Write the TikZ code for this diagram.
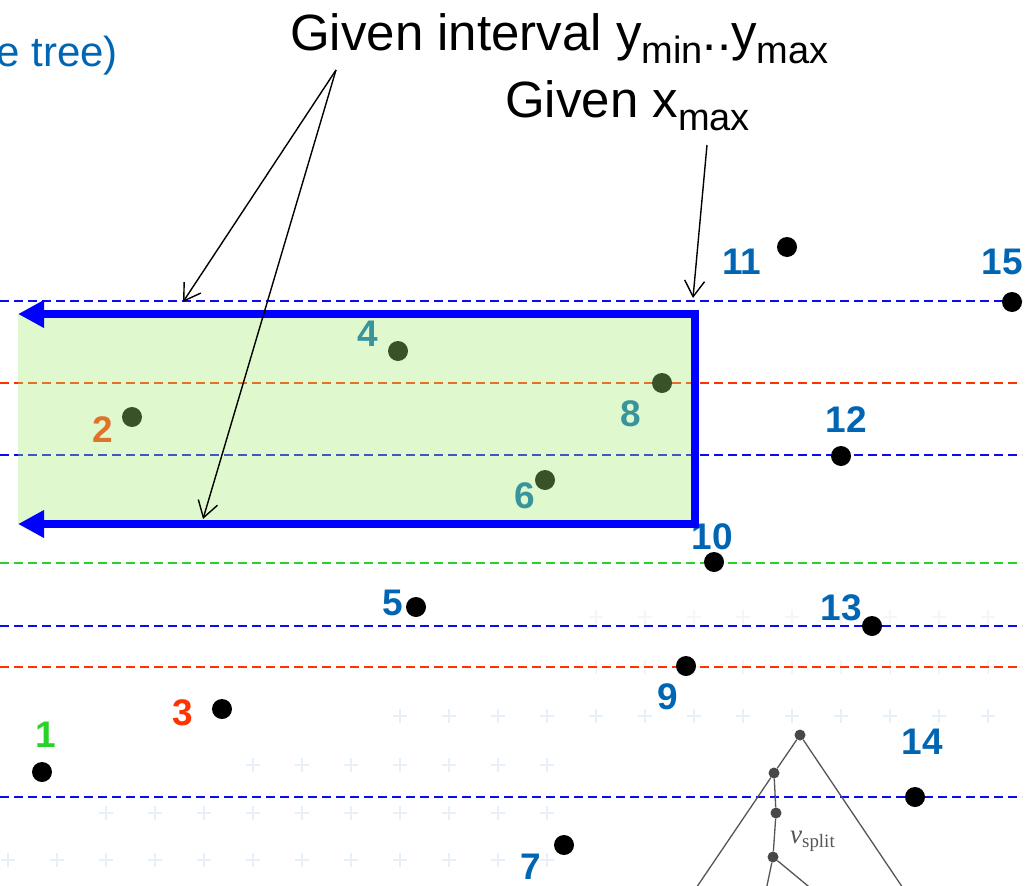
\documentclass[tikz,border=0pt]{standalone}
\usepackage{fontspec}
\setmainfont{Liberation Sans}
\newfontfamily\treefont{Liberation Serif}
\usetikzlibrary{arrows.meta,positioning}
\definecolor{numblue}{RGB}{0,102,179}
\definecolor{linered}{RGB}{255,51,0}
\definecolor{linegreen}{RGB}{40,210,40}
\definecolor{lineblue}{RGB}{10,10,245}
\definecolor{boxblue}{RGB}{0,0,255}
\definecolor{boxgreen}{RGB}{165,235,115}
\definecolor{faint}{RGB}{232,239,246}
\definecolor{treegray}{RGB}{85,85,85}
\newcommand\lowsub[1]{\raisebox{-13pt}{\fontsize{38}{38}\selectfont #1}}
\tikzset{
  pt/.style={circle,fill=black,inner sep=0pt,minimum size=20pt},
  num/.style={font=\fontsize{37}{37}\selectfont\bfseries,inner sep=0pt},
  sweep/.style={dash pattern=on 9pt off 5pt,line width=1.8pt},
  callout/.style={line width=1.4pt,-{Straight Barb[length=16pt,width=20pt]}},
  big/.style={font=\fontsize{51}{51}\selectfont,inner sep=0pt},
  tnode/.style={circle,fill=treegray!85!black,inner sep=0pt,minimum size=11pt},
  tedge/.style={treegray,line width=1.3pt}
}
\begin{document}
\begin{tikzpicture}[x=1pt,y=-1pt]
\useasboundingbox (0,0) rectangle (1034,886);

% faded crosses in the background
\foreach \y/\ka/\kb/\o in {617/12/20/0.5,667/12/20/0.6,716/8/20/1,765/5/11/1,813/2/11/1,860/0/11/1}
  \foreach \k in {\ka,...,\kb}
    \draw[faint,opacity=\o,line width=1.5pt] (8+49*\k-7,\y) -- ++(14,0) (8+49*\k,\y-7) -- ++(0,14);

% sweep lines
\foreach \y/\c in {301/lineblue,383/linered,455/lineblue,563/linegreen,626/lineblue,667/linered,797/lineblue}
  \draw[sweep,\c] (0,\y) -- (1022,\y);

% tree
\node[tnode] (root) at (800,735) {};
\node[tnode] (vl) at (774,773) {};
\node[tnode] (vm) at (776,813) {};
\node[tnode] (vs) at (773,857) {};
\coordinate (l1) at (688,900);
\coordinate (l2) at (764,900);
\coordinate (l3) at (825,900);
\coordinate (l4) at (911,900);
\draw[tedge] (root) -- (vl) -- (l1);
\draw[tedge] (root) -- (l4);
\draw[tedge] (vl) -- (vm) -- (vs);
\draw[tedge] (vs) -- (l2);
\draw[tedge] (vs) -- (l3);
\node[font=\treefont\fontsize{27}{27}\selectfont,text=treegray,inner sep=0pt,anchor=base west] (split) at (790,843) {\textit{v}\textsubscript{split}};

% points
\foreach \n/\x/\y in {1/42/772,2/132/417,3/222/709,4/398/351,5/416/607,6/545/480,7/564/845,8/662/383,9/686/666,10/714/562,11/787/247,12/841/456,13/872/626,14/915/797,15/1012/302}
  \node[pt] (p\n) at (\x,\y) {};
\foreach \n/\x/\y/\c in {1/46/735/linegreen,2/103/430/linered,3/183/713/linered,4/368/334/numblue,5/393/603/numblue,6/525/496/numblue,7/531/867/numblue,8/631/414/numblue,9/668/697/numblue,10/712/537/numblue,11/742/262/numblue,12/846/420/numblue,13/841/608/numblue,14/922/742/numblue,15/1002/262/numblue}
  \node[num,text=\c] (n\n) at (\x,\y) {\n};

% query range
\fill[boxgreen,opacity=0.35] (18,314) rectangle (695,524);
\draw[boxblue,line width=8pt,{Triangle[length=26pt,width=26pt]}-{Triangle[length=26pt,width=26pt]}]
  (18,524) -- (695,524) -- (695,314) -- (18,314);

% captions
\node[big,text=numblue,font=\fontsize{42}{42}\selectfont,anchor=base east] (title) at (118,66) {e tree)};
\node[big,anchor=base west] (interval) at (290,50) {Given interval y\lowsub{min}..y\lowsub{max}};
\node[big,anchor=base west] (xmax) at (505,117) {Given x\lowsub{max}};
\coordinate (fork) at (336,70);
\coordinate (ymaxtip) at (183,302);
\coordinate (ymintip) at (203,519);
\coordinate (xfoot) at (707,145);
\coordinate (xtip) at (693,298);
\draw[callout] (fork) -- (ymaxtip);
\draw[callout] (fork) -- (ymintip);
\draw[callout] (xfoot) -- (xtip);
\end{tikzpicture}
\end{document}
